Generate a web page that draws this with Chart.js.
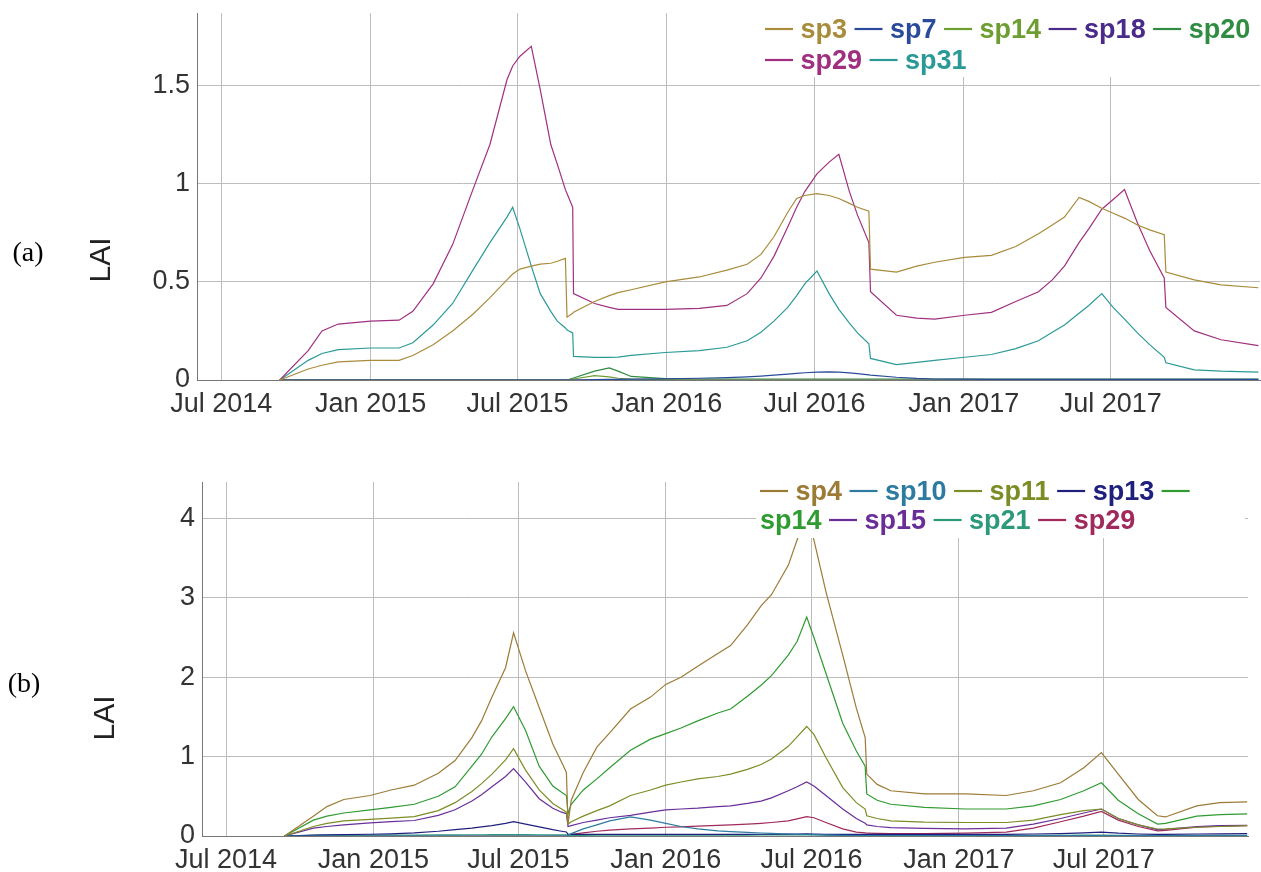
<!DOCTYPE html>
<html>
<head>
<meta charset="utf-8">
<script src="https://cdn.jsdelivr.net/npm/chart.js@4.4.1/dist/chart.umd.min.js"></script>
<style>
  html, body { margin: 0; padding: 0; background: #fff; }
  body { width: 1261px; height: 872px; position: relative; overflow: hidden; }
  .panel { position: absolute; left: 0; width: 1261px; }
  #panelA { top: 0; height: 436px; }
  #panelB { top: 440px; height: 432px; }
</style>
</head>
<body>
<div class="panel" id="panelA"><canvas id="chartA"></canvas></div>
<div class="panel" id="panelB"><canvas id="chartB"></canvas></div>
<script>
// x axis ticks (shared)
const tickDates = ['2014-07-01', '2015-01-01', '2015-07-01', '2016-01-01', '2016-07-01', '2017-01-01', '2017-07-01'];
const tickLabels = ['Jul 2014', 'Jan 2015', 'Jul 2015', 'Jan 2016', 'Jul 2016', 'Jan 2017', 'Jul 2017'];

// ---- panel (a) ----
const aDates = ['2014-09-11', '2014-10-16', '2014-11-02', '2014-11-22', '2015-01-01', '2015-02-05', '2015-02-22', '2015-03-19', '2015-04-12', '2015-05-07',
  '2015-05-28', '2015-06-18', '2015-06-25', '2015-07-04', '2015-07-18', '2015-07-29', '2015-08-11', '2015-08-19', '2015-08-29', '2015-08-31',
  '2015-09-07', '2015-09-08', '2015-10-04', '2015-10-22', '2015-11-02', '2015-11-18', '2015-12-30', '2016-02-10', '2016-03-15', '2016-04-09',
  '2016-04-26', '2016-05-12', '2016-05-29', '2016-06-09', '2016-06-19', '2016-07-04', '2016-07-19', '2016-07-31', '2016-08-13', '2016-08-23',
  '2016-09-06', '2016-09-08', '2016-10-10', '2016-11-04', '2016-11-26', '2017-01-02', '2017-02-04', '2017-03-06', '2017-04-03', '2017-04-20',
  '2017-05-05', '2017-05-23', '2017-06-04', '2017-06-20', '2017-07-04', '2017-07-18', '2017-08-03', '2017-08-18', '2017-09-05', '2017-09-07',
  '2017-10-12', '2017-11-14', '2017-12-30'];
const aNames = ['sp3', 'sp7', 'sp14', 'sp18', 'sp20', 'sp29', 'sp31'];
const aSp3 = [0, 0.056, 0.075, 0.092, 0.10, 0.10, 0.125, 0.18, 0.25, 0.335,
  0.42, 0.51, 0.54, 0.565, 0.58, 0.59, 0.595, 0.605, 0.62, 0.32,
  0.34, 0.345, 0.40, 0.43, 0.445, 0.46, 0.50, 0.525, 0.56, 0.59,
  0.64, 0.73, 0.855, 0.925, 0.94, 0.95, 0.94, 0.925, 0.90, 0.88,
  0.86, 0.565, 0.55, 0.58, 0.60, 0.625, 0.635, 0.68, 0.745, 0.79,
  0.83, 0.93, 0.91, 0.875, 0.85, 0.825, 0.79, 0.765, 0.74, 0.55,
  0.51, 0.485, 0.47];
const aSp7 = [0, 0, 0, 0, 0, 0, 0, 0, 0, 0,
  0, 0, 0, 0, 0, 0, 0, 0, 0, 0,
  0, 0, 0.002, 0.003, 0.003, 0.004, 0.006, 0.009, 0.012, 0.016,
  0.02, 0.025, 0.03, 0.034, 0.037, 0.04, 0.041, 0.04, 0.036, 0.032,
  0.026, 0.025, 0.014, 0.008, 0.005, 0.004, 0.003, 0.003, 0.003, 0.003,
  0.003, 0.003, 0.003, 0.003, 0.003, 0.003, 0.003, 0.003, 0.003, 0.003,
  0.003, 0.003, 0.003];
const aSp14 = [0, 0, 0, 0, 0, 0, 0, 0, 0, 0,
  0, 0, 0, 0, 0, 0, 0, 0, 0, 0,
  0.004, 0.005, 0.022, 0.016, 0.009, 0.004, 0.002, 0, 0, 0,
  0, 0, 0, 0, 0, 0, 0, 0, 0, 0,
  0, 0, 0, 0, 0, 0, 0, 0, 0, 0,
  0, 0, 0, 0, 0, 0, 0, 0, 0, 0,
  0, 0, 0];
const aSp18 = [0, 0, 0, 0, 0, 0, 0, 0, 0, 0,
  0, 0, 0, 0, 0, 0, 0, 0, 0, 0,
  0, 0, 0, 0, 0, 0, 0, 0, 0, 0,
  0, 0, 0, 0, 0, 0, 0, 0, 0, 0,
  0, 0, 0, 0, 0, 0, 0, 0, 0, 0,
  0, 0, 0, 0, 0, 0, 0, 0, 0, 0,
  0, 0, 0];
const aSp20 = [0, 0, 0, 0, 0, 0, 0, 0, 0, 0,
  0, 0, 0, 0, 0, 0, 0, 0, 0, 0,
  0.008, 0.01, 0.045, 0.062, 0.045, 0.018, 0.007, 0.005, 0.005, 0.005,
  0.005, 0.005, 0.005, 0.005, 0.005, 0.005, 0.005, 0.005, 0.005, 0.005,
  0.005, 0.005, 0.005, 0.005, 0.005, 0.005, 0.005, 0.005, 0.005, 0.005,
  0.005, 0.005, 0.005, 0.005, 0.005, 0.005, 0.005, 0.005, 0.005, 0.005,
  0.005, 0.005, 0.005];
const aSp29 = [0, 0.15, 0.25, 0.285, 0.30, 0.305, 0.35, 0.49, 0.69, 0.97,
  1.20, 1.53, 1.60, 1.65, 1.70, 1.48, 1.20, 1.10, 0.97, 0.95,
  0.88, 0.44, 0.39, 0.37, 0.36, 0.36, 0.36, 0.365, 0.38, 0.44,
  0.52, 0.63, 0.78, 0.88, 0.96, 1.05, 1.11, 1.15, 0.96, 0.84,
  0.70, 0.45, 0.33, 0.315, 0.31, 0.33, 0.345, 0.40, 0.45, 0.51,
  0.58, 0.70, 0.77, 0.87, 0.92, 0.97, 0.80, 0.66, 0.52, 0.37,
  0.25, 0.205, 0.175];
const aSp31 = [0, 0.10, 0.135, 0.155, 0.163, 0.163, 0.19, 0.28, 0.39, 0.56,
  0.70, 0.83, 0.88, 0.77, 0.58, 0.44, 0.35, 0.30, 0.265, 0.255,
  0.24, 0.12, 0.115, 0.115, 0.117, 0.125, 0.14, 0.15, 0.167, 0.20,
  0.243, 0.30, 0.37, 0.43, 0.49, 0.555, 0.44, 0.36, 0.29, 0.24,
  0.185, 0.11, 0.078, 0.09, 0.10, 0.116, 0.13, 0.16, 0.20, 0.243,
  0.28, 0.34, 0.38, 0.44, 0.37, 0.31, 0.24, 0.18, 0.116, 0.088,
  0.052, 0.045, 0.04];
const aColors = ['#a88c3c', '#2a4b9b', '#6e9e32', '#4a2b8b', '#2f8c40', '#a0307f', '#2b9a97'];

// ---- panel (b) ----
const bDates = ['2014-09-12', '2014-10-18', '2014-11-04', '2014-11-25', '2014-12-28', '2015-01-23', '2015-02-21', '2015-03-23', '2015-04-13', '2015-05-04',
  '2015-05-16', '2015-05-29', '2015-06-15', '2015-06-25', '2015-07-10', '2015-07-27', '2015-08-13', '2015-08-24', '2015-08-30', '2015-09-01',
  '2015-09-05', '2015-09-20', '2015-10-07', '2015-10-23', '2015-11-18', '2015-12-13', '2016-01-01', '2016-01-20', '2016-02-10', '2016-03-06',
  '2016-03-22', '2016-04-12', '2016-04-29', '2016-05-12', '2016-06-02', '2016-06-13', '2016-06-25', '2016-07-04', '2016-07-19', '2016-08-09',
  '2016-08-26', '2016-09-06', '2016-09-08', '2016-09-21', '2016-10-08', '2016-11-19', '2017-01-09', '2017-03-01', '2017-04-04', '2017-05-08',
  '2017-06-06', '2017-06-28', '2017-07-19', '2017-08-13', '2017-09-06', '2017-09-16', '2017-10-25', '2017-11-23', '2017-12-27'];
const bNames = ['sp4', 'sp10', 'sp11', 'sp13', 'sp14', 'sp15', 'sp21', 'sp29'];
const bSp4 = [0, 0.25, 0.37, 0.46, 0.51, 0.58, 0.64, 0.79, 0.95, 1.24,
  1.45, 1.75, 2.12, 2.56, 2.08, 1.62, 1.16, 0.93, 0.80, 0.15,
  0.45, 0.80, 1.12, 1.30, 1.60, 1.75, 1.91, 2.00, 2.14, 2.30,
  2.40, 2.66, 2.90, 3.04, 3.41, 3.73, 4.05, 3.73, 3.08, 2.28,
  1.61, 1.24, 0.78, 0.65, 0.57, 0.53, 0.53, 0.51, 0.57, 0.67,
  0.86, 1.05, 0.78, 0.46, 0.255, 0.24, 0.38, 0.42, 0.43];
const bSp10 = [0, 0, 0, 0, 0, 0, 0, 0, 0, 0,
  0, 0, 0, 0, 0, 0, 0, 0, 0, 0.01,
  0.03, 0.09, 0.14, 0.19, 0.24, 0.20, 0.16, 0.12, 0.09, 0.065,
  0.055, 0.045, 0.038, 0.032, 0.025, 0.022, 0.02, 0.018, 0.012, 0.008,
  0.005, 0.005, 0.005, 0.005, 0.005, 0.005, 0.005, 0.005, 0.005, 0.005,
  0.005, 0.005, 0.005, 0.005, 0.005, 0.005, 0.005, 0.005, 0.005];
const bSp11 = [0, 0.12, 0.16, 0.19, 0.21, 0.225, 0.245, 0.32, 0.42, 0.56,
  0.66, 0.78, 0.96, 1.10, 0.83, 0.58, 0.41, 0.34, 0.30, 0.15,
  0.18, 0.25, 0.32, 0.38, 0.51, 0.58, 0.64, 0.68, 0.72, 0.75,
  0.78, 0.84, 0.90, 0.97, 1.13, 1.25, 1.38, 1.28, 0.99, 0.61,
  0.42, 0.34, 0.255, 0.22, 0.19, 0.175, 0.17, 0.17, 0.20, 0.27,
  0.32, 0.34, 0.22, 0.14, 0.088, 0.09, 0.11, 0.12, 0.13];
const bSp13 = [0, 0.01, 0.015, 0.018, 0.022, 0.028, 0.04, 0.06, 0.08, 0.10,
  0.115, 0.13, 0.16, 0.18, 0.15, 0.115, 0.08, 0.06, 0.05, 0.02,
  0.02, 0.02, 0.02, 0.02, 0.02, 0.02, 0.02, 0.02, 0.02, 0.02,
  0.02, 0.02, 0.022, 0.022, 0.024, 0.025, 0.026, 0.025, 0.022, 0.02,
  0.02, 0.02, 0.02, 0.02, 0.02, 0.02, 0.02, 0.02, 0.025, 0.03,
  0.04, 0.05, 0.035, 0.025, 0.02, 0.02, 0.025, 0.028, 0.03];
const bSp14 = [0, 0.20, 0.25, 0.29, 0.33, 0.36, 0.40, 0.50, 0.62, 0.88,
  1.03, 1.25, 1.48, 1.63, 1.33, 0.88, 0.63, 0.55, 0.51, 0.28,
  0.40, 0.58, 0.72, 0.86, 1.08, 1.22, 1.29, 1.36, 1.45, 1.55,
  1.60, 1.76, 1.90, 2.02, 2.28, 2.45, 2.76, 2.50, 2.05, 1.42,
  1.07, 0.88, 0.53, 0.45, 0.40, 0.36, 0.34, 0.34, 0.38, 0.46,
  0.57, 0.67, 0.45, 0.28, 0.15, 0.16, 0.25, 0.27, 0.28];
const bSp15 = [0, 0.10, 0.12, 0.14, 0.165, 0.18, 0.195, 0.26, 0.33, 0.44,
  0.52, 0.62, 0.75, 0.85, 0.68, 0.47, 0.35, 0.30, 0.28, 0.12,
  0.13, 0.17, 0.20, 0.23, 0.26, 0.30, 0.33, 0.34, 0.35, 0.37,
  0.38, 0.41, 0.44, 0.48, 0.57, 0.62, 0.68, 0.63, 0.51, 0.34,
  0.22, 0.16, 0.14, 0.12, 0.105, 0.095, 0.09, 0.10, 0.15, 0.22,
  0.29, 0.34, 0.22, 0.14, 0.08, 0.085, 0.12, 0.13, 0.135];
const bSp21 = [0, 0.008, 0.01, 0.012, 0.012, 0.012, 0.012, 0.014, 0.015, 0.016,
  0.016, 0.017, 0.018, 0.018, 0.017, 0.016, 0.015, 0.014, 0.014, 0.008,
  0.008, 0.009, 0.01, 0.01, 0.011, 0.011, 0.012, 0.012, 0.012, 0.012,
  0.012, 0.012, 0.013, 0.013, 0.014, 0.014, 0.014, 0.014, 0.013, 0.011,
  0.01, 0.01, 0.008, 0.008, 0.008, 0.008, 0.008, 0.008, 0.008, 0.009,
  0.01, 0.01, 0.009, 0.008, 0.008, 0.008, 0.008, 0.008, 0.008];
const bSp29 = [0, 0, 0, 0, 0, 0, 0, 0, 0, 0,
  0, 0, 0, 0, 0, 0, 0, 0, 0, 0.01,
  0.02, 0.04, 0.06, 0.075, 0.09, 0.10, 0.11, 0.115, 0.125, 0.135,
  0.14, 0.15, 0.16, 0.17, 0.19, 0.215, 0.245, 0.23, 0.17, 0.09,
  0.05, 0.04, 0.035, 0.033, 0.03, 0.03, 0.035, 0.05, 0.10, 0.18,
  0.25, 0.31, 0.20, 0.12, 0.065, 0.07, 0.11, 0.125, 0.13];
const bColors = ['#9c7b37', '#2e7ba2', '#7c8d26', '#1f207e', '#2f9b31', '#6a2e99', '#2c9a7a', '#a02a5b'];

Chart.defaults.font.family = '"Liberation Sans", Arial, sans-serif';
Chart.defaults.color = '#333';

// panel tag, y title and dygraphs-like legend drawn over the plot
const overlay = {
  id: 'overlay',
  afterDraw(chart, args, o) {
    const ctx = chart.ctx;
    ctx.save();
    ctx.fillStyle = '#000';
    ctx.font = '28px "Liberation Serif", "Times New Roman", serif';
    ctx.textAlign = 'center';
    ctx.textBaseline = 'middle';
    ctx.fillText(o.tag, o.tagX, o.tagY);
    ctx.save();
    ctx.translate(o.titleX, o.titleY);
    ctx.rotate(-Math.PI / 2);
    ctx.fillStyle = '#222';
    ctx.font = '30px "Liberation Sans", Arial, sans-serif';
    ctx.fillText('LAI', 0, 0);
    ctx.restore();

    // legend
    ctx.fillStyle = '#fff';
    ctx.fillRect(o.boxL, o.boxT, o.boxR - o.boxL, o.boxB - o.boxT);
    ctx.font = 'bold 27px "Liberation Sans", Arial, sans-serif';
    ctx.textAlign = 'left';
    ctx.textBaseline = 'alphabetic';
    const space = ctx.measureText(' ').width;
    let x = o.x0, row = 0;
    chart.data.datasets.forEach(ds => {
      const parts = [{dash: true, w: 28}, {text: ds.label, w: ctx.measureText(ds.label).width}];
      parts.forEach(p => {
        if (x + p.w > o.x1) { row++; x = o.x0; }
        const base = o.rows[row];
        if (p.dash) {
          ctx.strokeStyle = ds.borderColor;
          ctx.lineWidth = 2.2;
          ctx.beginPath();
          ctx.moveTo(x, base - 9);
          ctx.lineTo(x + p.w, base - 9);
          ctx.stroke();
        } else {
          ctx.fillStyle = ds.borderColor;
          ctx.fillText(p.text, x, base);
        }
        x += p.w + space;
      });
    });
    ctx.restore();
  }
};

function makeSets(dates, names, series, colors) {
  const xs = dates.map(d => Date.parse(d));
  return names.map((n, k) => ({
    label: n,
    data: series[k].map((v, i) => ({x: xs[i], y: v})),
    borderColor: colors[k],
    borderWidth: 1.2,
    pointRadius: 0,
    tension: 0,
    fill: false
  }));
}

function makeChart(id, sets, cfg) {
  return new Chart(document.getElementById(id), {
    type: 'line',
    data: {datasets: sets},
    options: {
      responsive: true,
      maintainAspectRatio: false,
      animation: false,
      layout: {padding: {top: cfg.top, right: cfg.right, left: 0, bottom: 0}},
      plugins: {
        legend: {display: false},
        tooltip: {enabled: false},
        overlay: cfg.overlay
      },
      scales: {
        x: {
          type: 'linear',
          min: Date.parse(cfg.xMin),
          max: Date.parse(cfg.xMax),
          afterBuildTicks: s => { s.ticks = tickDates.map(d => ({value: Date.parse(d)})); },
          afterFit: s => { s.height = cfg.xHeight; },
          ticks: {callback: (v, i) => tickLabels[i], autoSkip: false, maxRotation: 0, padding: 8, font: {size: 27}, color: '#333'},
          grid: {color: '#bdbdbd', drawTicks: false},
          border: {color: '#777'}
        },
        y: {
          min: 0,
          max: cfg.yMax,
          afterFit: s => { s.width = cfg.yWidth; s.paddingTop = 0; s.paddingBottom = 0; },
          ticks: {stepSize: cfg.step, includeBounds: false, padding: 7, font: {size: 27}, color: '#333', callback: v => String(v)},
          grid: {color: '#bdbdbd', drawTicks: false},
          border: {color: '#777'}
        }
      }
    },
    plugins: [overlay]
  });
}

makeChart('chartA', makeSets(aDates, aNames, [aSp3, aSp7, aSp14, aSp18, aSp20, aSp29, aSp31], aColors), {
  top: 13, right: 1, yWidth: 197, xHeight: 56, yMax: 1.87, step: 0.5,
  xMin: '2014-06-01', xMax: '2018-01-01',
  overlay: {tag: '(a)', tagX: 28, tagY: 254, titleX: 102, titleY: 260,
    boxL: 757, boxT: 13, boxR: 1261, boxB: 77, x0: 765, x1: 1261, rows: [38, 69]}
});

makeChart('chartB', makeSets(bDates, bNames, [bSp4, bSp10, bSp11, bSp13, bSp14, bSp15, bSp21, bSp29], bColors), {
  top: 42, right: 13, yWidth: 202, xHeight: 36, yMax: 4.46, step: 1,
  xMin: '2014-06-01', xMax: '2017-12-28',
  overlay: {tag: '(b)', tagX: 24, tagY: 245, titleX: 106, titleY: 278,
    boxL: 756, boxT: 42, boxR: 1245, boxB: 98, x0: 760, x1: 1245, rows: [60, 89]}
});
</script>
</body>
</html>
